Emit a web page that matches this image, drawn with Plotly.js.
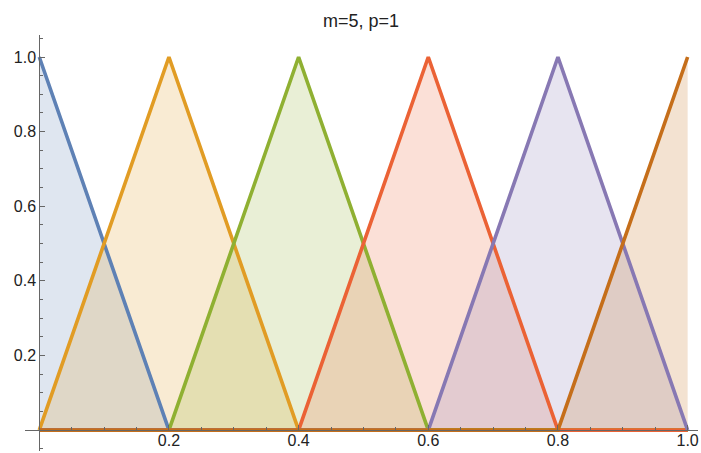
<!DOCTYPE html>
<html><head><meta charset="utf-8">
<script src="https://cdn.plot.ly/plotly-3.0.1.min.js"></script>
<style>html,body{margin:0;padding:0;background:#fff}</style>
</head><body>
<div id="chart" style="width:701px;height:453px"></div>
<script>
// knots and basis function values (m=5, p=1)
const knots = [0, 0.2, 0.4, 0.6, 0.8, 1.0];
const B1 = [1, 0, 0, 0, 0, 0];
const B2 = [0, 1, 0, 0, 0, 0];
const B3 = [0, 0, 1, 0, 0, 0];
const B4 = [0, 0, 0, 1, 0, 0];
const B5 = [0, 0, 0, 0, 1, 0];
const B6 = [0, 0, 0, 0, 0, 1];
const series = [B1, B2, B3, B4, B5, B6];
const colors = ['#5E81B5', '#E19C24', '#8FB032', '#EB6235', '#8778B3', '#C56E1A'];
const tickVals = [0.2, 0.4, 0.6, 0.8, 1.0];
const tickText = ['0.2', '0.4', '0.6', '0.8', '1.0'];

function rgba(hex, a) {
  const n = parseInt(hex.slice(1), 16);
  return `rgba(${(n>>16)&255},${(n>>8)&255},${n&255},${a})`;
}

const traces = [];
series.forEach((ys, i) => {
  traces.push({x: knots, y: ys, type: 'scatter', mode: 'lines',
    line: {width: 0, color: colors[i]}, fill: 'tozeroy',
    fillcolor: rgba(colors[i], 0.2), hoverinfo: 'skip', showlegend: false});
});
series.forEach((ys, i) => {
  traces.push({x: knots, y: ys, type: 'scatter', mode: 'lines',
    line: {width: 3.6, color: colors[i]}, showlegend: false});
});

const xr = [-0.022, 1.016], yr = [-0.056, 1.059];
const axisCommon = {
  showgrid: false, zeroline: false, showline: true, linecolor: '#666', linewidth: 1,
  ticks: 'inside', ticklen: 5, tickcolor: '#666', tickwidth: 1,
  tickmode: 'array', tickvals: tickVals, ticktext: tickText,
  tickfont: {family: 'Liberation Sans, Arial, sans-serif', size: 16, color: '#222'},
  minor: {tickmode: 'linear', tick0: 0, dtick: 0.05, ticks: 'inside', ticklen: 3, tickcolor: '#666', showgrid: false},
  fixedrange: true
};

const layout = {
  width: 701, height: 453,
  margin: {l: 25, r: 3, t: 35, b: 2},
  paper_bgcolor: '#fff', plot_bgcolor: '#fff',
  title: {text: 'm=5, p=1', x: 0.515, xanchor: 'center', y: 1 - 21/453, yanchor: 'middle',
    font: {family: 'Liberation Sans, Arial, sans-serif', size: 18, color: '#222'}},
  xaxis: Object.assign({}, axisCommon, {range: xr, anchor: 'free',
    position: (0 - yr[0]) / (yr[1] - yr[0]), ticklabelstandoff: -4}),
  yaxis: Object.assign({}, axisCommon, {range: yr, anchor: 'free',
    position: (0 - xr[0]) / (xr[1] - xr[0])}),
  showlegend: false
};

Plotly.newPlot('chart', traces, layout, {displayModeBar: false, staticPlot: true});
</script>
</body></html>
